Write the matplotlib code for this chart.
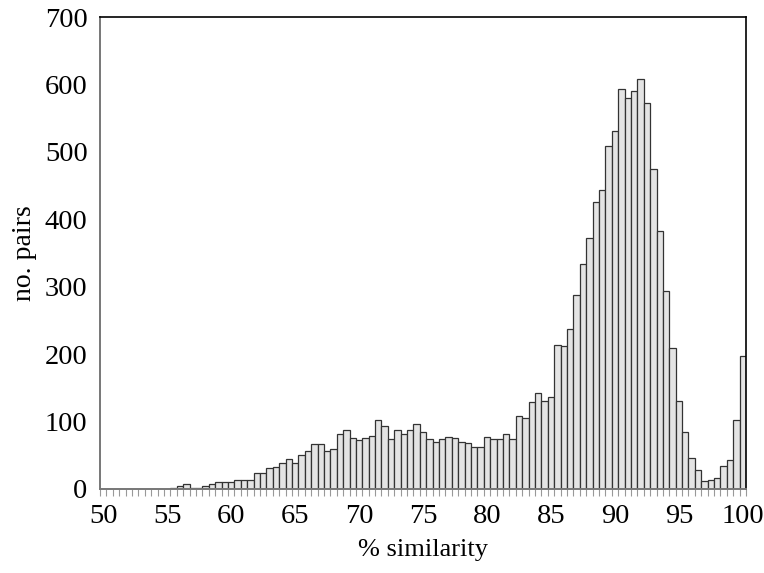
import numpy as np
import matplotlib
matplotlib.use('Agg')
import matplotlib.pyplot as plt
from matplotlib.ticker import FixedLocator

plt.rcParams['font.family'] = ['Liberation Serif', 'DejaVu Serif']

# category centres 50, 50.5, ... 100 (101 bins)
similarity = np.arange(50, 100.01, 0.5)
pairs = [
    0, 0, 0, 0, 0, 0, 0, 0, 0, 0, 0,
    2, 4, 8, 1, 1, 5, 8, 10, 10,
    10, 13, 14, 14, 23, 23, 31, 33, 39, 44,
    39, 51, 56, 66, 67, 57, 60, 81, 87, 75,
    73, 76, 78, 102, 93, 74, 87, 82, 87, 96,
    84, 74, 69, 74, 77, 75, 70, 68, 62, 62,
    77, 74, 74, 81, 74, 109, 105, 129, 143, 130,
    136, 214, 212, 238, 288, 334, 373, 425, 443, 509,
    531, 593, 580, 590, 608, 572, 474, 382, 293, 209,
    131, 84, 46, 28, 12, 14, 16, 34, 43, 102,
    197,
]
x_ticks = [50, 55, 60, 65, 70, 75, 80, 85, 90, 95, 100]
y_ticks = [0, 100, 200, 300, 400, 500, 600, 700]

fig = plt.figure(figsize=(7.64, 5.73), dpi=100)
ax = fig.add_axes([0.131, 0.1466, 0.8455, 0.8237])

ax.bar(similarity, pairs, width=0.5, color='#e4e4e4', edgecolor='#333333',
       linewidth=0.9, zorder=2)

ax.set_xlim(49.75, 100.25)
ax.set_ylim(0, 700)
ax.set_xticks(x_ticks)
ax.set_yticks(y_ticks)
ax.xaxis.set_minor_locator(FixedLocator(np.arange(49.75, 100.3, 0.5)))
ax.tick_params(axis='x', which='major', length=0, pad=11, labelsize=20.5)
ax.tick_params(axis='x', which='minor', length=5, width=0.8, color='#999999',
               direction='out')
ax.tick_params(axis='y', which='major', length=0, pad=9, labelsize=20.5)

for side in ['left', 'bottom']:
    ax.spines[side].set_color('#777777')
    ax.spines[side].set_linewidth(1.4)
for side in ['top', 'right']:
    ax.spines[side].set_color('black')
    ax.spines[side].set_linewidth(1.2)

ax.set_xlabel('% similarity', fontsize=19, labelpad=7)
ax.set_ylabel('no. pairs', fontsize=20, labelpad=6)

fig.savefig('out.png', dpi=100)
